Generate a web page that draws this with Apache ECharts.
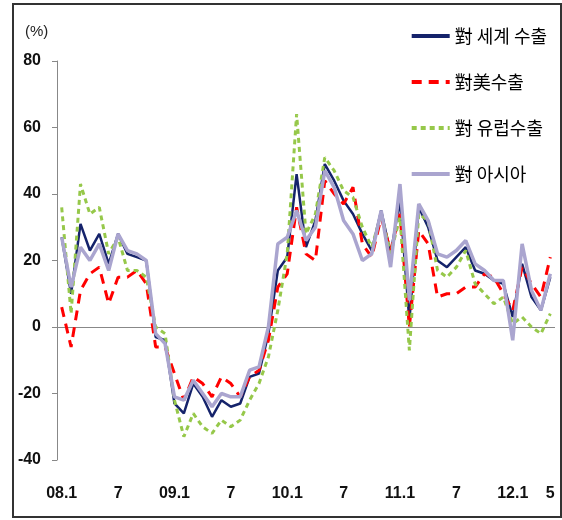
<!DOCTYPE html>
<html>
<head>
<meta charset="utf-8">
<script src="https://cdn.jsdelivr.net/npm/echarts@6/dist/echarts.min.js"></script>
<style>
  html, body { margin: 0; padding: 0; background: #fff; }
  #main { width: 562px; height: 520px; }
</style>
</head>
<body>
<div id="main"></div>
<script>
// 2008.1 ~ 2012.5 monthly
const months = [
  '08.1','08.2','08.3','08.4','08.5','08.6','08.7','08.8','08.9','08.10','08.11','08.12',
  '09.1','09.2','09.3','09.4','09.5','09.6','09.7','09.8','09.9','09.10','09.11','09.12',
  '10.1','10.2','10.3','10.4','10.5','10.6','10.7','10.8','10.9','10.10','10.11','10.12',
  '11.1','11.2','11.3','11.4','11.5','11.6','11.7','11.8','11.9','11.10','11.11','11.12',
  '12.1','12.2','12.3','12.4','12.5'
];
const xTickLabels = { '08.1': '08.1', '08.7': '7', '09.1': '09.1', '09.7': '7', '10.1': '10.1',
  '10.7': '7', '11.1': '11.1', '11.7': '7', '12.1': '12.1', '12.5': '5' };
const yTicks = [-40, -20, 0, 20, 40, 60, 80];

const seriesNames = ['對 세계 수출', '對美수출', '對 유럽수출', '對 아시아'];

// 對 세계 수출
const world = [27, 10, 31, 23, 28, 19, 28, 22, 21, 20, -3, -4,
  -23, -26, -17, -21, -27, -22, -24, -23, -15, -14, -2, 17,
  21, 46, 24, 32, 49, 44, 38, 34, 28, 23, 35, 22,
  38, 2, 36, 30, 20, 18, 21, 24, 17, 16, 14, 13,
  3, 19, 9, 5, 15];
// 對美수출
const usa = [6, -6, 11, 16, 18, 7, 15, 15, 17, 13, -6, -6,
  -14, -22, -15, -17, -21, -15, -17, -21, -15, -13, -4, 12,
  16, 36, 22, 20, 44, 40, 37, 42, 25, 21, 33, 23,
  34, 0, 29, 25, 9, 10, 10, 12, 12, 16, 15, 10,
  5, 18, 13, 9, 21];
// 對 유럽수출
const europe = [36, 4, 43, 34, 36, 22, 27, 17, 17, 15, 0, -2,
  -22, -33, -26, -30, -32, -28, -30, -28, -22, -17, -9, 5,
  22, 64, 28, 34, 51, 47, 41, 39, 30, 24, 34, 22,
  33, -7, 34, 32, 17, 15, 18, 23, 13, 10, 7, 9,
  1, 3, 0, -2, 4];
// 對 아시아
const asia = [27, 12, 24, 20, 25, 17, 28, 23, 22, 20, -2, -5,
  -21, -22, -16, -20, -24, -20, -21, -21, -13, -12, 0, 25,
  27, 35, 26, 30, 47, 42, 32, 28, 20, 22, 35, 18,
  43, 8, 37, 32, 22, 21, 23, 26, 19, 17, 14, 14,
  -4, 25, 11, 5, 16];

const chart = echarts.init(document.getElementById('main'));

const option = {
  backgroundColor: '#fff',
  animation: false,
  graphic: [
    {
      type: 'rect',
      shape: { x: 13, y: 4, width: 548, height: 513 },
      style: { fill: 'none', stroke: '#333', lineWidth: 2 },
      z: 0
    },
    {
      type: 'text',
      left: 25, top: 24,
      style: { text: '(%)', fontSize: 15, fill: '#222', fontFamily: 'Liberation Sans, Arial, sans-serif' }
    }
  ],
  legend: {
    orient: 'vertical',
    right: 10,
    top: 22,
    itemWidth: 38,
    itemHeight: 14,
    itemGap: 28,
    data: seriesNames,
    itemStyle: { opacity: 0 },
    lineStyle: { width: 4 },
    textStyle: {
      fontSize: 18,
      color: '#000',
      fontFamily: 'Noto Sans CJK KR, sans-serif'
    }
  },
  grid: { left: 57, right: 7, top: 61, bottom: 60 },
  xAxis: {
    type: 'category',
    data: months,
    boundaryGap: true,
    axisLine: { show: false },
    axisTick: { show: false },
    axisLabel: {
      interval: 0,
      margin: 26,
      fontSize: 16,
      fontWeight: 'bold',
      color: '#111',
      fontFamily: 'Liberation Sans, Arial, sans-serif',
      formatter: v => xTickLabels[v] || ''
    }
  },
  yAxis: {
    type: 'value',
    min: yTicks[0],
    max: yTicks[yTicks.length - 1],
    interval: 20,
    axisLine: { show: true, lineStyle: { color: '#888', width: 1 } },
    axisTick: { show: true, length: 5, lineStyle: { color: '#888' } },
    splitLine: { show: false },
    axisLabel: {
      margin: 16,
      fontSize: 16,
      fontWeight: 'bold',
      color: '#111',
      fontFamily: 'Liberation Sans, Arial, sans-serif'
    }
  },
  series: [
    {
      name: seriesNames[0],
      type: 'line',
      data: world,
      symbol: 'none',
      color: '#15236b',
      lineStyle: { width: 2.5, color: '#15236b' },
      z: 3,
      markLine: {
        silent: true,
        symbol: 'none',
        label: { show: false },
        lineStyle: { color: '#888', width: 1.2, type: 'solid' },
        data: [{ yAxis: 0 }],
        z: 1
      }
    },
    {
      name: seriesNames[1],
      type: 'line',
      data: usa,
      symbol: 'none',
      color: '#ff0000',
      lineStyle: { width: 3, color: '#ff0000', type: [10, 7] },
      z: 4
    },
    {
      name: seriesNames[2],
      type: 'line',
      data: europe,
      symbol: 'none',
      color: '#96c84a',
      lineStyle: { width: 3, color: '#96c84a', type: [5, 4] },
      z: 5
    },
    {
      name: seriesNames[3],
      type: 'line',
      data: asia,
      symbol: 'none',
      color: '#aaa5cf',
      lineStyle: { width: 3.5, color: '#aaa5cf' },
      z: 6
    }
  ]
};

chart.setOption(option);
</script>
</body>
</html>
